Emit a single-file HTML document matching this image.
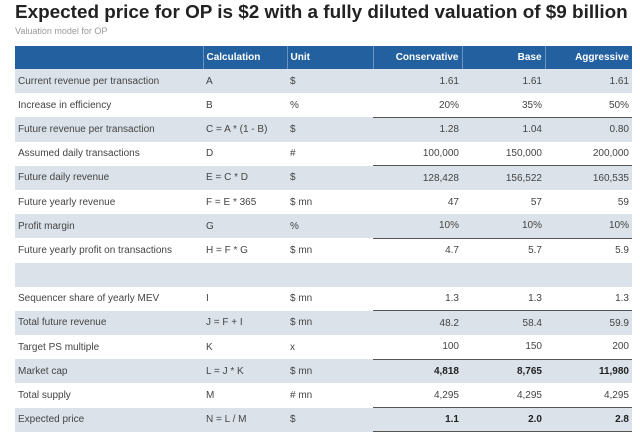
<!DOCTYPE html><html><head><style>
body{margin:0;width:640px;height:435px;background:#fff;font-family:"Liberation Sans",sans-serif;overflow:hidden;position:relative}
h1{position:absolute;left:15px;top:2px;margin:0;font-size:18.9px;font-weight:bold;color:#222;white-space:nowrap}
.sub{position:absolute;left:15px;top:26px;font-size:9px;color:#999}
table{position:absolute;left:15px;top:46px;border-collapse:collapse;width:617px;font-size:10px;color:#444}
td,th{padding:0 3px;height:24.2px;box-sizing:border-box;white-space:nowrap}
th{background:#22609f;color:#fff;font-size:10px;height:23px;text-align:left;border-left:1px solid #6a94c0}
th:first-child{border-left:none}
th.r,td.r{text-align:right}
tr.s td{background:#dbe2ea}
tr.b td.r{border-bottom:1px solid #555}
.bold td.r{font-weight:bold;color:#222}
</style></head><body>
<h1>Expected price for OP is $2 with a fully diluted valuation of $9 billion</h1>
<div class="sub">Valuation model for OP</div>
<table>
<colgroup><col style="width:188px"><col style="width:84px"><col style="width:86px"><col style="width:89px"><col style="width:83px"><col style="width:87px"></colgroup>
<tr><th></th><th>Calculation</th><th>Unit</th><th class="r">Conservative</th><th class="r">Base</th><th class="r">Aggressive</th></tr>
<tr class="s"><td>Current revenue per transaction</td><td>A</td><td>$</td><td class="r">1.61</td><td class="r">1.61</td><td class="r">1.61</td></tr>
<tr class="b"><td>Increase in efficiency</td><td>B</td><td>%</td><td class="r">20%</td><td class="r">35%</td><td class="r">50%</td></tr>
<tr class="s"><td>Future revenue per transaction</td><td>C = A * (1 - B)</td><td>$</td><td class="r">1.28</td><td class="r">1.04</td><td class="r">0.80</td></tr>
<tr class="b"><td>Assumed daily transactions</td><td>D</td><td>#</td><td class="r">100,000</td><td class="r">150,000</td><td class="r">200,000</td></tr>
<tr class="s"><td>Future daily revenue</td><td>E = C * D</td><td>$</td><td class="r">128,428</td><td class="r">156,522</td><td class="r">160,535</td></tr>
<tr><td>Future yearly revenue</td><td>F = E * 365</td><td>$ mn</td><td class="r">47</td><td class="r">57</td><td class="r">59</td></tr>
<tr class="s b"><td>Profit margin</td><td>G</td><td>%</td><td class="r">10%</td><td class="r">10%</td><td class="r">10%</td></tr>
<tr><td>Future yearly profit on transactions</td><td>H = F * G</td><td>$ mn</td><td class="r">4.7</td><td class="r">5.7</td><td class="r">5.9</td></tr>
<tr class="s"><td></td><td></td><td></td><td></td><td></td><td></td></tr>
<tr class="b"><td>Sequencer share of yearly MEV</td><td>I</td><td>$ mn</td><td class="r">1.3</td><td class="r">1.3</td><td class="r">1.3</td></tr>
<tr class="s"><td>Total future revenue</td><td>J = F + I</td><td>$ mn</td><td class="r">48.2</td><td class="r">58.4</td><td class="r">59.9</td></tr>
<tr class="b"><td>Target PS multiple</td><td>K</td><td>x</td><td class="r">100</td><td class="r">150</td><td class="r">200</td></tr>
<tr class="s bold"><td>Market cap</td><td>L = J * K</td><td>$ mn</td><td class="r">4,818</td><td class="r">8,765</td><td class="r">11,980</td></tr>
<tr class="b"><td>Total supply</td><td>M</td><td># mn</td><td class="r">4,295</td><td class="r">4,295</td><td class="r">4,295</td></tr>
<tr class="s bold b"><td>Expected price</td><td>N = L / M</td><td>$</td><td class="r">1.1</td><td class="r">2.0</td><td class="r">2.8</td></tr>
</table>
</body></html>
